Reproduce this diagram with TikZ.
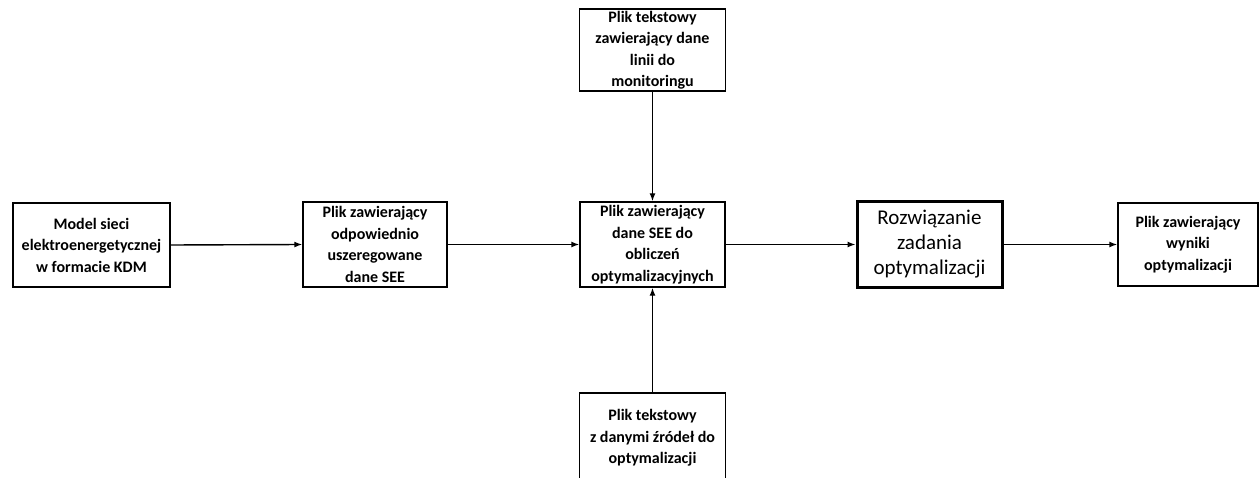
\documentclass[tikz,border=0pt]{standalone}
\usepackage{fontspec}
\setmainfont{Carlito}
\usetikzlibrary{arrows.meta}
\tikzset{
  boxs/.style={draw=black, line width=1.4pt, inner sep=0pt, align=center,
    font=\fontsize{16}{21.5}\selectfont\bfseries},
  mainbox/.style={draw=black, line width=3pt, inner sep=0pt, align=center,
    font=\fontsize{21}{25}\selectfont},
  conn/.style={line width=1.4pt, -{Latex[length=8pt,width=6pt]}}
}
\begin{document}
\begin{tikzpicture}[x=1pt,y=-1pt]
\useasboundingbox (0,0) rectangle (1260,478);
\clip (0,0) rectangle (1260,478);
\node[boxs, minimum width=157pt, minimum height=84pt] (kdm) at (91.5,245) {Model sieci\\elektroenergetycznej\\w formacie KDM};
\node[boxs, minimum width=144pt, minimum height=85pt] (usz) at (375,244.5) {Plik zawierający\\odpowiednio\\uszeregowane\\dane SEE};
\node[boxs, minimum width=145pt, minimum height=85pt] (see) at (652.5,244.5) {Plik zawierający\\dane SEE do\\obliczeń\\optymalizacyjnych};
\node[boxs, minimum width=146pt, minimum height=82pt] (mon) at (652.5,50) {Plik tekstowy\\zawierający dane\\linii do\\monitoringu};
\node[boxs, minimum width=146pt, minimum height=90pt] (zro) at (652.5,438) {Plik tekstowy\\z danymi źródeł do\\optymalizacji};
\node[mainbox, minimum width=145pt, minimum height=85pt] (roz) at (929.5,244.5) {Rozwiązanie\\zadania\\optymalizacji};
\node[boxs, minimum width=140pt, minimum height=83pt] (wyn) at (1188,244.5) {Plik zawierający\\wyniki\\optymalizacji};
\draw[conn] (kdm.east) -- (usz.west);
\draw[conn] (usz.east) -- (see.west);
\draw[conn] (see.east) -- (roz.west);
\draw[conn] (roz.east) -- (wyn.west);
\draw[conn] (mon.south) -- (see.north);
\draw[conn] (zro.north) -- (see.south);
\end{tikzpicture}
\end{document}
